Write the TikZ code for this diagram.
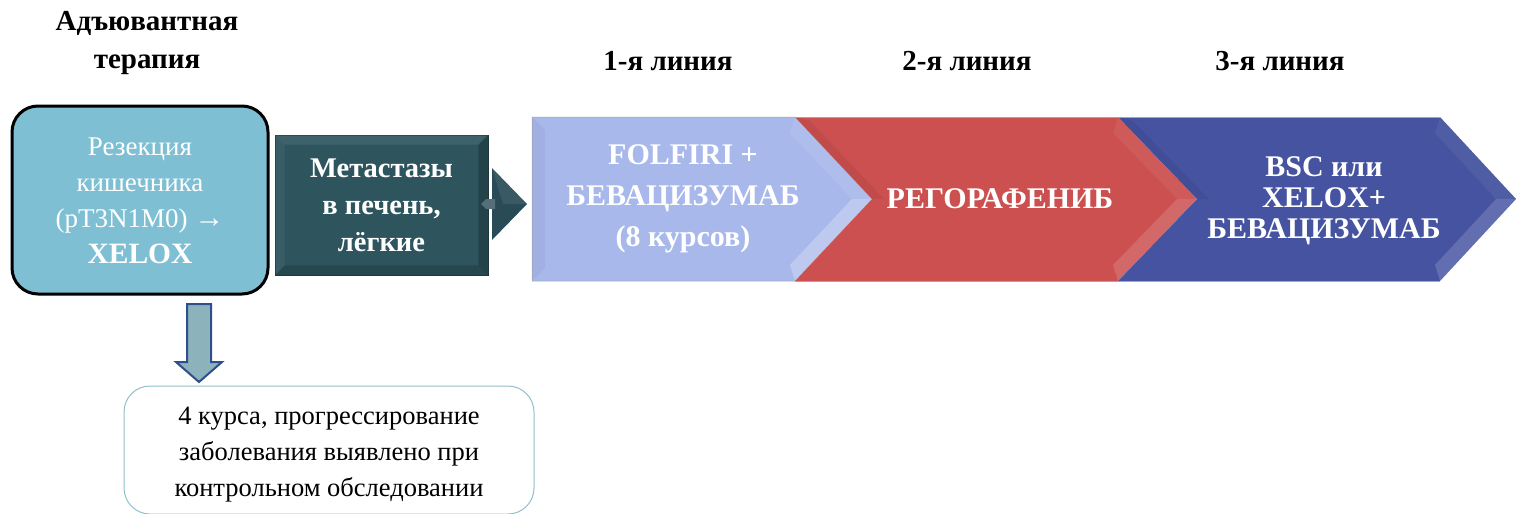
\documentclass[tikz,border=0pt]{standalone}
\usepackage{fontspec}
\setmainfont{Liberation Serif}
\usetikzlibrary{calc}
\definecolor{resfill}{HTML}{7FBFD4}
\definecolor{darkfill}{HTML}{2E555E}
\definecolor{chevA}{HTML}{A8B8EA}
\definecolor{chevB}{HTML}{CC5050}
\definecolor{chevC}{HTML}{4553A0}
\definecolor{downfill}{HTML}{8CB3BC}
\definecolor{downline}{HTML}{2F4E8C}
\definecolor{noteline}{HTML}{92C0CC}
\definecolor{arrowdark}{HTML}{294B58}
\tikzset{
  header/.style={font=\fontsize{29}{38}\selectfont\bfseries, align=center, text=black},
  whitebold/.style={font=\fontsize{30}{41}\selectfont\bfseries, align=center, text=white},
  restext/.style={font=\fontsize{27}{36}\selectfont, align=center, text=white},
  darktext/.style={font=\fontsize{28.5}{37}\selectfont\bfseries, align=center, text=white},
  notetext/.style={font=\fontsize{26.5}{36}\selectfont, align=center, text=black},
}
\begin{document}
\begin{tikzpicture}[x=1pt,y=-1pt]
\useasboundingbox (0,0) rectangle (1516,514);
% headers
\node[header] (hadj) at (147,43) {Адъювантная\\терапия};
\node[header] (h1) at (668,61) {1-я линия};
\node[header] (h2) at (967,61) {2-я линия};
\node[header] (h3) at (1280,61) {3-я линия};

% left box
\node[draw=black, line width=3pt, rounded corners=26pt, fill=resfill,
      minimum width=256pt, minimum height=188pt, inner sep=0pt] (res) at (140,200) {};
\node[restext] (restxt) at (140,201) {Резекция\\кишечника\\(pT3N1M0) {\fontsize{30}{36}\selectfont →}\\{\fontsize{29.5}{36}\selectfont\bfseries XELOX}};

% dark box with bevel
\node[fill=darkfill, draw=darkfill!70!black, line width=0.6pt,
      minimum width=213pt, minimum height=140pt, inner sep=0pt] (met) at (381.5,205) {};
\fill[white, opacity=0.08] (met.north west) -- (met.north east) -- ++(-10,10) -- ($(met.north west)+(10,10)$) -- cycle;
\fill[white, opacity=0.05] (met.north west) -- (met.south west) -- ++(10,-10) -- ($(met.north west)+(10,10)$) -- cycle;
\fill[black, opacity=0.22] (met.north east) -- (met.south east) -- ++(-10,-10) -- ($(met.north east)+(-10,10)$) -- cycle;
\fill[black, opacity=0.16] (met.south west) -- (met.south east) -- ++(-10,-10) -- ($(met.south west)+(10,-10)$) -- cycle;
\node[darktext] (mettxt) at (381.5,205) {Метастазы\\в печень,\\лёгкие};

% chevrons
\path[fill=chevA, draw=gray!70, line width=0.5pt] (532,117) -- (795,117) -- (872,199) -- (795,281) -- (532,281) -- cycle;
\path[fill=chevB] (795,117) -- (1118,117) -- (1197,199) -- (1118,281) -- (795,281) -- (872,199) -- cycle;
\path[fill=chevC] (1118,117) -- (1440,117) -- (1516,199) -- (1440,281) -- (1118,281) -- (1197,199) -- cycle;
\draw[gray!70, line width=0.5pt] (795,117) -- (1440,117);
\draw[gray!70, line width=0.5pt] (795,281) -- (1440,281);
% bevels
\fill[white, opacity=0.08] (795,117) -- (872,199) -- (852,199) -- (790,133) -- cycle;
\fill[white, opacity=0.25] (872,199) -- (795,281) -- (790,265) -- (852,199) -- cycle;
\fill[black, opacity=0.04] (532,117) -- (545,130) -- (545,268) -- (532,281) -- cycle;
\fill[white, opacity=0.06] (1118,117) -- (1197,199) -- (1177,199) -- (1113,133) -- cycle;
\fill[white, opacity=0.14] (1197,199) -- (1118,281) -- (1113,265) -- (1177,199) -- cycle;
\fill[black, opacity=0.05] (795,117) -- (872,199) -- (884,199) -- (810,121) -- cycle;
\fill[black, opacity=0.05] (1118,117) -- (1197,199) -- (1209,199) -- (1133,121) -- cycle;
\fill[white, opacity=0.06] (1440,117) -- (1516,199) -- (1496,199) -- (1435,133) -- cycle;
\fill[white, opacity=0.16] (1516,199) -- (1440,281) -- (1435,265) -- (1496,199) -- cycle;
\node[whitebold] (t1) at (683,199) {FOLFIRI +\\БЕВАЦИЗУМАБ\\(8 курсов)};
\node[whitebold] (t2) at (1000,199) {РЕГОРАФЕНИБ};
\node[whitebold, font=\fontsize{30}{31}\selectfont\bfseries] (t3) at (1324,201) {BSC или\\XELOX+\\БЕВАЦИЗУМАБ};

% small arrow between dark box and chevrons
\coordinate (satip) at (527,204);
\fill[arrowdark] (492,168) -- (satip) -- (492,240) -- cycle;
\fill[white, opacity=0.08] (492,168) -- (satip) -- (503,204) -- cycle;
\fill[arrowdark!80!white] (481,204) -- (486,199) -- (495,199) -- (495,209) -- (486,209) -- cycle;

% down arrow
\path[fill=downfill, draw=downline, line width=2pt, line join=miter]
  (187,304) -- (211,304) -- (211,362) -- (222,362) -- (199,382) -- (176,362) -- (187,362) -- cycle;

% note box
\node[draw=noteline, line width=1pt, rounded corners=26pt, fill=white,
      minimum width=410pt, minimum height=128pt, inner sep=0pt] (note) at (329,450) {};
\node[notetext] (notetxt) at (329,455) {4 курса, прогрессирование\\заболевания выявлено при\\контрольном обследовании};
\end{tikzpicture}
\end{document}
